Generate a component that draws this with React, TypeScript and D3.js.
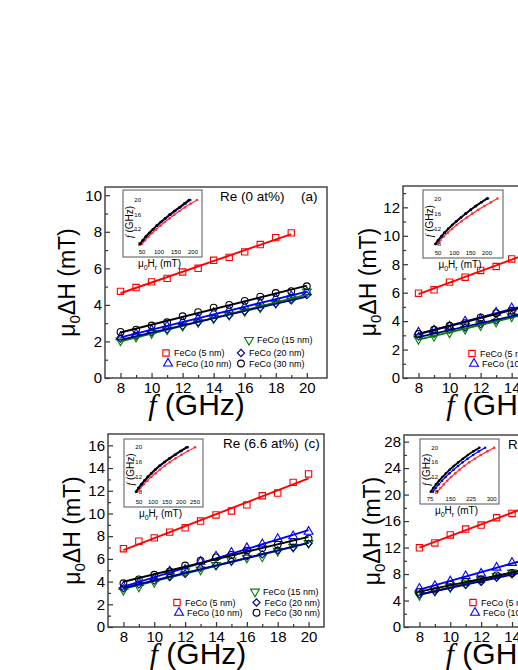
import React, { useEffect, useRef } from "react";
import * as d3 from "d3";

const W = 518;
const H = 670;
const SANS = "'Liberation Sans', Arial, sans-serif";
const SERIF = "'Liberation Serif', 'Times New Roman', serif";

// frequencies (GHz)
const FREQ = [8, 9, 10, 11, 12, 13, 14, 15, 16, 17, 18, 19, 20];
const FREQ_TO19 = [8, 9, 10, 11, 12, 13, 14, 15, 16, 17, 18, 19];
const FREQ_CUT = [8, 9, 10, 11, 12, 13, 14];

// linewidth mu0 dH (mT), panel (a) Re 0 at%
const A_5 = [4.74, 4.95, 5.26, 5.45, 5.8, 6.0, 6.44, 6.6, 6.9, 7.3, 7.68, 7.94];
const A_10 = [2.24, 2.4, 2.62, 2.82, 3.07, 3.25, 3.56, 3.7, 3.89, 4.1, 4.34, 4.48, 4.7];
const A_15 = [2.05, 2.25, 2.45, 2.65, 2.85, 3.05, 3.25, 3.45, 3.65, 3.85, 4.1, 4.35, 4.72];
const A_20 = [2.15, 2.3, 2.5, 2.66, 2.85, 3.05, 3.25, 3.42, 3.65, 3.85, 4.07, 4.25, 4.53];
const A_30 = [2.52, 2.65, 2.87, 3.05, 3.38, 3.6, 3.85, 4.0, 4.22, 4.45, 4.65, 4.75, 5.02];

// panel (b)
const B_5 = [5.96, 6.2, 6.74, 7.09, 7.56, 7.84, 8.37];
const B_10 = [3.2, 3.35, 3.63, 3.98, 4.14, 4.6, 4.91];
const B_15 = [2.74, 2.95, 3.2, 3.45, 3.7, 3.95, 4.33];
const B_20 = [2.92, 3.1, 3.39, 3.55, 3.79, 4.05, 4.44];
const B_30 = [3.09, 3.39, 3.67, 3.86, 4.26, 4.56, 4.73];

// panel (c) Re 6.6 at%
const C_5 = [6.9, 7.56, 7.85, 8.36, 8.74, 9.33, 9.87, 10.22, 10.76, 11.56, 11.8, 12.74, 13.48];
const C_10 = [3.56, 3.9, 4.25, 4.89, 5.05, 5.75, 6.22, 6.55, 6.96, 7.3, 7.76, 8.0, 8.39];
const C_15 = [3.26, 3.55, 3.95, 4.55, 4.9, 5.05, 5.45, 5.85, 6.1, 6.2, 6.7, 7.05, 7.4];
const C_20 = [3.41, 3.75, 4.09, 4.4, 4.68, 5.2, 5.42, 5.8, 6.22, 6.4, 6.76, 7.0, 7.35];
const C_30 = [3.85, 4.2, 4.6, 4.9, 5.42, 5.84, 6.13, 6.35, 6.73, 6.95, 7.26, 7.5, 7.79];

// panel (d)
const D_5 = [11.96, 12.7, 13.9, 14.8, 15.4, 16.5, 17.15];
const D_10 = [5.8, 6.2, 6.9, 7.7, 8.07, 8.98, 9.7];
const D_15 = [4.8, 5.45, 6.0, 6.6, 7.1, 7.65, 8.2];
const D_20 = [4.94, 5.4, 5.95, 6.35, 6.8, 7.45, 7.97];
const D_30 = [5.3, 5.75, 6.4, 6.85, 7.2, 7.8, 8.17];

// insets: resonance field mu0 Hr (mT) at FREQ
const IA_5 = [50, 59, 69, 80, 92, 104, 117, 131, 145, 160, 176, 193, 212];
const IA_10 = [45, 53, 62, 72, 83, 95, 107, 120, 134, 148, 163, 178, 192];
const IA_30 = [44, 52, 61, 71, 82, 93, 105, 118, 131, 145, 160, 174, 188];
const IB_5 = [48, 57, 68, 80, 93, 107, 122, 138, 155, 173, 192, 212, 232];
const IB_10 = [43, 51, 61, 71, 82, 94, 107, 121, 136, 151, 167, 184, 203];
const IB_30 = [42, 50, 60, 70, 81, 93, 106, 120, 134, 149, 165, 182, 200];
const IC_5 = [44, 55, 67, 80, 94, 109, 125, 142, 160, 180, 202, 225, 250];
const IC_10 = [40, 49, 60, 71, 83, 96, 110, 126, 143, 161, 181, 202, 224];
const IC_30 = [39, 48, 58, 69, 81, 94, 108, 123, 140, 158, 178, 198, 220];
const ID_5 = [102, 113, 125, 138, 152, 167, 183, 200, 218, 238, 260, 284, 309];
const ID_10 = [86, 96, 107, 119, 132, 146, 161, 177, 194, 212, 232, 253, 276];
const ID_30 = [78, 87, 97, 108, 120, 133, 147, 162, 178, 195, 213, 233, 255];

// ticks
const X_TICKS = [8, 10, 12, 14, 16, 18, 20];
const X_MINOR = [9, 11, 13, 15, 17, 19];
const YT_A = [0, 2, 4, 6, 8, 10];
const YM_A = [1, 3, 5, 7, 9];
const YT_B = [0, 2, 4, 6, 8, 10, 12];
const YM_B = [1, 3, 5, 7, 9, 11, 13];
const YT_C = [0, 2, 4, 6, 8, 10, 12, 14, 16];
const YM_C = [1, 3, 5, 7, 9, 11, 13, 15];
const YT_D = [0, 4, 8, 12, 16, 20, 24, 28];
const YM_D = [2, 6, 10, 14, 18, 22, 26];
const INSET_F_TICKS = [8, 12, 16, 20];
const INSET_H_AB = [50, 100, 150, 200];
const INSET_H_C = [50, 100, 150, 200, 250];
const INSET_H_D = [75, 150, 225, 300];

const SERIES = [
  { name: "FeCo (5 nm)", color: "#ff0000", sym: "square" },
  { name: "FeCo (10 nm)", color: "#0000ff", sym: "up" },
  { name: "FeCo (15 nm)", color: "#008000", sym: "down" },
  { name: "FeCo (20 nm)", color: "#00008b", sym: "diamond" },
  { name: "FeCo (30 nm)", color: "#000000", sym: "circle" },
];
const INSET_COLORS = ["#ff3030", "#0000ff", "#000000"];

const LEG_A = [[61, -25], [63, -14.5], [144, -38], [136, -25], [136, -14.5]];
const LEG_C = [[69, -24.5], [71, -14.3], [147, -35.3], [148.5, -24.5], [148.5, -14.3]];

const PANELS = [
  {
    frame: [105, 187, 327, 378], xDom: [7, 21.3], yDom: [0, 10.45], yTicks: YT_A, yMinor: YM_A,
    xs: [FREQ_TO19, FREQ, FREQ, FREQ, FREQ], ys: [A_5, A_10, A_15, A_20, A_30], fitMax: null,
    legend: LEG_A, label: "Re (0 at%)", tag: "(a)", yTitleX: 75,
    inset: { box: [123, 190, 202, 257], hA: [50, 200], hR: [142, 193], fR: [244, 200], hTicks: INSET_H_AB, data: [IA_5, IA_10, IA_30] },
  },
  {
    frame: [403, 186, 625, 378], xDom: [7, 21.3], yDom: [0, 13.5], yTicks: YT_B, yMinor: YM_B,
    xs: [FREQ_CUT, FREQ_CUT, FREQ_CUT, FREQ_CUT, FREQ_CUT], ys: [B_5, B_10, B_15, B_20, B_30], fitMax: 20,
    legend: LEG_C, label: null, tag: null, yTitleX: 376,
    inset: { box: [423, 190, 503, 258], hA: [50, 200], hR: [438, 487], fR: [244, 198.5], hTicks: INSET_H_AB, data: [IB_5, IB_10, IB_30] },
  },
  {
    frame: [108, 434, 324, 627], xDom: [7, 21], yDom: [0, 17], yTicks: YT_C, yMinor: YM_C,
    xs: [FREQ, FREQ, FREQ, FREQ, FREQ], ys: [C_5, C_10, C_15, C_20, C_30], fitMax: null,
    legend: LEG_C, label: "Re (6.6 at%)", tag: "(c)", yTitleX: 80,
    inset: { box: [124, 439, 203, 507], hA: [50, 250], hR: [139, 195], fR: [491.7, 447.3], hTicks: INSET_H_C, data: [IC_5, IC_10, IC_30] },
  },
  {
    frame: [404, 435, 620, 627], xDom: [7, 21], yDom: [0, 29], yTicks: YT_D, yMinor: YM_D,
    xs: [FREQ_CUT, FREQ_CUT, FREQ_CUT, FREQ_CUT, FREQ_CUT], ys: [D_5, D_10, D_15, D_20, D_30], fitMax: 20,
    legend: LEG_C, label: "Re (10 at%)", tag: "(d)", labelDx: 104, yTitleX: 380,
    inset: { box: [420, 439, 499, 504], hA: [75, 300], hR: [430, 491.7], fR: [491.7, 447.7], hTicks: INSET_H_D, data: [ID_5, ID_10, ID_30] },
  },
];

function symbolPath(kind: string) {
  if (kind === "square") return d3.symbol().type(d3.symbolSquare).size(40)();
  if (kind === "up" || kind === "down") return d3.symbol().type(d3.symbolTriangle).size(34)();
  if (kind === "diamond") return d3.symbol().type(d3.symbolSquare).size(26)();
  return d3.symbol().type(d3.symbolCircle).size(36)();
}
function symbolRot(kind: string) {
  if (kind === "down") return 180;
  if (kind === "diamond") return 45;
  return 0;
}

function fit(xs: number[], ys: number[]) {
  const mx = d3.mean(xs) as number, my = d3.mean(ys) as number;
  const b = d3.sum(xs, (x, i) => (x - mx) * (ys[i] - my)) / d3.sum(xs, (x) => (x - mx) ** 2);
  return (x: number) => my + b * (x - mx);
}

function drawPanel(svg: any, p: any) {
  const [l, t, r, b] = p.frame;
  const x = d3.scaleLinear().domain(p.xDom).range([l, r]);
  const y = d3.scaleLinear().domain(p.yDom).range([b, t]);
  const g = svg.append("g");

  const styleAxis = (ax: any) => {
    ax.select(".domain").remove();
    ax.selectAll("line").attr("stroke", "#333").attr("stroke-width", 1.2);
    ax.selectAll("text").attr("fill", "#000").style("font-size", "15px").style("font-family", SANS);
  };
  g.append("g").attr("transform", `translate(0,${b})`)
    .call(d3.axisBottom(x).tickValues(X_TICKS).tickSize(-5).tickPadding(4)).call(styleAxis);
  g.append("g").attr("transform", `translate(0,${b})`)
    .call(d3.axisBottom(x).tickValues(X_MINOR).tickSize(-3).tickFormat(() => "")).call(styleAxis);
  g.append("g").attr("transform", `translate(${l},0)`)
    .call(d3.axisLeft(y).tickValues(p.yTicks).tickSize(-5).tickPadding(3)).call(styleAxis);
  g.append("g").attr("transform", `translate(${l},0)`)
    .call(d3.axisLeft(y).tickValues(p.yMinor).tickSize(-3).tickFormat(() => "")).call(styleAxis);

  g.append("rect").attr("x", l).attr("y", t).attr("width", r - l).attr("height", b - t)
    .attr("fill", "none").attr("stroke", "#3a3a3a").attr("stroke-width", 1.4);

  // markers
  SERIES.forEach((s, i) => {
    const xs = p.xs[i];
    g.append("g").selectAll("path").data(p.ys[i]).join("path")
      .attr("d", symbolPath(s.sym))
      .attr("transform", (v: number, j: number) => `translate(${x(xs[j])},${y(v)}) rotate(${symbolRot(s.sym)})`)
      .attr("fill", "none").attr("stroke", s.color).attr("stroke-width", 1.1);
  });
  // linear fits
  [0, 2, 3, 1, 4].forEach((i) => {
    const xs = p.xs[i];
    const f = fit(xs, p.ys[i]);
    const x0 = xs[0], x1 = p.fitMax ?? xs[xs.length - 1];
    g.append("line").attr("x1", x(x0)).attr("y1", y(f(x0))).attr("x2", x(x1)).attr("y2", y(f(x1)))
      .attr("stroke", SERIES[i].color).attr("stroke-width", 1.9);
  });

  // legend
  SERIES.forEach((s, i) => {
    const [dx, dy] = p.legend[i];
    g.append("path").attr("d", symbolPath(s.sym))
      .attr("transform", `translate(${l + dx},${b + dy}) rotate(${symbolRot(s.sym)})`)
      .attr("fill", "none").attr("stroke", s.color).attr("stroke-width", 1.1);
    g.append("text").attr("x", l + dx + 8).attr("y", b + dy + 3.2).text(s.name)
      .style("font-size", "9px").style("font-family", SANS).attr("fill", "#000");
  });

  if (p.label) {
    g.append("text").attr("x", l + (p.labelDx ?? 115)).attr("y", t + 14).text(p.label)
      .style("font-size", "13.5px").style("font-family", SANS);
    g.append("text").attr("x", l + 196).attr("y", t + 14).text(p.tag)
      .style("font-size", "13.5px").style("font-family", SANS);
  }

  // axis titles
  const yt = g.append("text").attr("transform", `translate(${p.yTitleX},${(t + b) / 2}) rotate(-90)`)
    .attr("text-anchor", "middle").style("font-size", "23px").style("font-family", SANS);
  yt.append("tspan").text("μ");
  yt.append("tspan").attr("dy", 5).style("font-size", "15px").text("0");
  yt.append("tspan").attr("dy", -5).text("ΔH (mT)");

  const xt = g.append("text").attr("x", (l + Math.min(r, l + 219)) / 2 - 18).attr("y", b + 37)
    .attr("text-anchor", "middle").style("font-size", "30px").style("font-family", SANS);
  xt.append("tspan").style("font-family", SERIF).style("font-style", "italic").text("f");
  xt.append("tspan").text(" (GHz)");

  drawInset(g, p.inset);
}

function drawInset(g: any, ins: any) {
  const [l, t, r, b] = ins.box;
  const hx = d3.scaleLinear().domain(ins.hA).range(ins.hR);
  const fy = d3.scaleLinear().domain([8, 20]).range(ins.fR);
  const ig = g.append("g");
  ig.append("rect").attr("x", l).attr("y", t).attr("width", r - l).attr("height", b - t)
    .attr("fill", "#fff").attr("stroke", "#555").attr("stroke-width", 1);

  ins.data.forEach((hs: number[], k: number) => {
    const pts = hs.map((h, j) => [hx(h), fy(FREQ[j])] as [number, number]);
    ig.append("path").attr("d", d3.line()(pts)).attr("fill", "none")
      .attr("stroke", INSET_COLORS[k]).attr("stroke-width", k === 2 ? 1.8 : 1.2);
    ig.append("g").selectAll("circle").data(pts).join("circle")
      .attr("cx", (d: any) => d[0]).attr("cy", (d: any) => d[1]).attr("r", 1.3)
      .attr("fill", INSET_COLORS[k]);
  });

  ig.append("g").selectAll("text").data(INSET_F_TICKS).join("text")
    .attr("x", l + 18).attr("y", (v: number) => fy(v)).attr("dy", "0.35em").attr("text-anchor", "end")
    .text((v: number) => v).style("font-size", "6px").style("font-family", SANS);
  ig.append("g").selectAll("text").data(ins.hTicks).join("text")
    .attr("x", (v: number) => hx(v)).attr("y", b - 3).attr("text-anchor", "middle")
    .text((v: number) => v).style("font-size", "6px").style("font-family", SANS);

  const ft = ig.append("text")
    .attr("transform", `translate(${l + 10},${(fy(8) + fy(20)) / 2}) rotate(-90)`)
    .attr("text-anchor", "middle").style("font-size", "10px").style("font-family", SANS);
  ft.append("tspan").style("font-family", SERIF).style("font-style", "italic").text("f");
  ft.append("tspan").text(" (GHz)");

  const ht = ig.append("text").attr("x", (l + r) / 2 - 3).attr("y", b + 10)
    .attr("text-anchor", "middle").style("font-size", "10px").style("font-family", SANS);
  ht.append("tspan").text("μ");
  ht.append("tspan").attr("dy", 2.5).style("font-size", "7px").text("0");
  ht.append("tspan").attr("dy", -2.5).text("H");
  ht.append("tspan").attr("dy", 2.5).style("font-size", "7px").text("r");
  ht.append("tspan").attr("dy", -2.5).text(" (mT)");
}

export default function App() {
  const ref = useRef<SVGSVGElement>(null);
  useEffect(() => {
    const svg = d3.select(ref.current);
    svg.selectAll("*").remove();
    svg.append("rect").attr("width", W).attr("height", H).attr("fill", "#fff");
    PANELS.forEach((p) => drawPanel(svg, p));
  }, []);
  return (
    <svg ref={ref} width={W} height={H}
      style={{ position: "absolute", left: 0, top: 0, display: "block", overflow: "hidden" }} />
  );
}
